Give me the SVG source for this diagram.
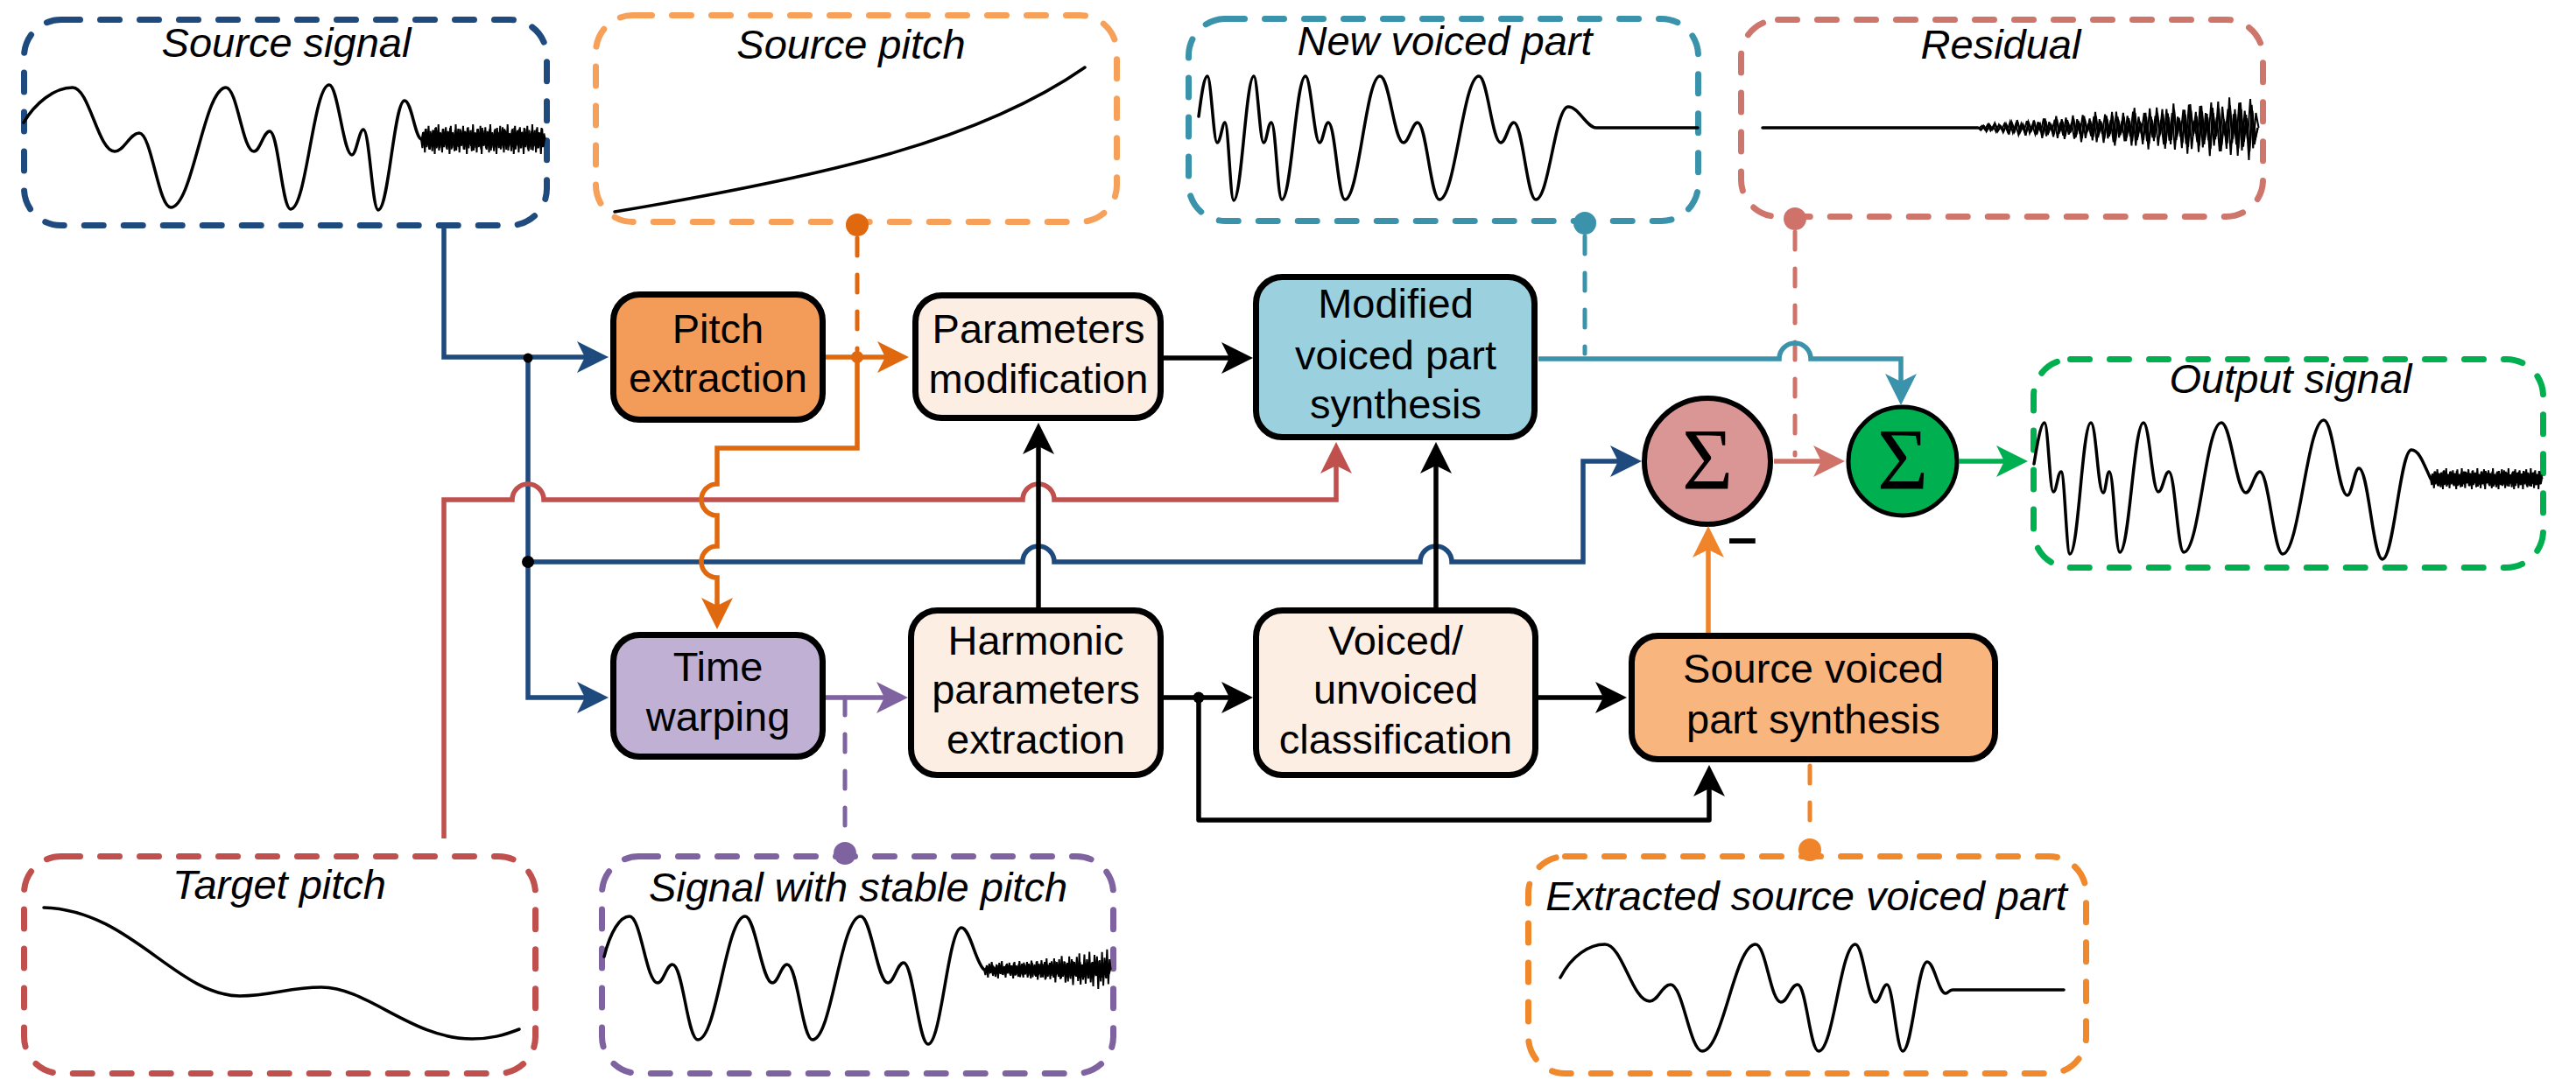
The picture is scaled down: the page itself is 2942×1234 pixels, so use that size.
<svg xmlns="http://www.w3.org/2000/svg" xmlns:xlink="http://www.w3.org/1999/xlink" width="2942" height="1234" viewBox="0 0 2942 1234">
<style>
.nb{stroke:#000;stroke-width:7}
.sh{fill:#000}
.t{font-family:"Liberation Sans",Arial,sans-serif;font-size:47px;text-anchor:middle;fill:#000}
.ti{font-style:italic}
.db{fill:none;stroke-width:7;stroke-dasharray:22 23;stroke-linecap:round}
.w{fill:none;stroke:#000;stroke-width:3.5;stroke-linejoin:round;stroke-linecap:round}
.c{fill:none;stroke-width:5.5}
.dc{fill:none;stroke-width:5;stroke-dasharray:20 22;stroke-linecap:round}
.sg{font-family:"Liberation Serif","Times New Roman",serif;font-size:100px;text-anchor:middle;fill:#000}
</style>
<defs>
<marker id="aBlue" viewBox="-40 -20 44 40" refX="-20" refY="0" markerWidth="44" markerHeight="40" markerUnits="userSpaceOnUse" orient="auto"><path d="M0,0 L-36,-18 L-27,0 L-36,18 Z" fill="#1f4a7e"/></marker>
<marker id="aOrD" viewBox="-40 -20 44 40" refX="-20" refY="0" markerWidth="44" markerHeight="40" markerUnits="userSpaceOnUse" orient="auto"><path d="M0,0 L-36,-18 L-27,0 L-36,18 Z" fill="#e0690f"/></marker>
<marker id="aOrB" viewBox="-40 -20 44 40" refX="-20" refY="0" markerWidth="44" markerHeight="40" markerUnits="userSpaceOnUse" orient="auto"><path d="M0,0 L-36,-18 L-27,0 L-36,18 Z" fill="#f0842a"/></marker>
<marker id="aRed" viewBox="-40 -20 44 40" refX="-20" refY="0" markerWidth="44" markerHeight="40" markerUnits="userSpaceOnUse" orient="auto"><path d="M0,0 L-36,-18 L-27,0 L-36,18 Z" fill="#c0504d"/></marker>
<marker id="aPink" viewBox="-40 -20 44 40" refX="-20" refY="0" markerWidth="44" markerHeight="40" markerUnits="userSpaceOnUse" orient="auto"><path d="M0,0 L-36,-18 L-27,0 L-36,18 Z" fill="#cf736a"/></marker>
<marker id="aTeal" viewBox="-40 -20 44 40" refX="-20" refY="0" markerWidth="44" markerHeight="40" markerUnits="userSpaceOnUse" orient="auto"><path d="M0,0 L-36,-18 L-27,0 L-36,18 Z" fill="#3a93aa"/></marker>
<marker id="aPur" viewBox="-40 -20 44 40" refX="-20" refY="0" markerWidth="44" markerHeight="40" markerUnits="userSpaceOnUse" orient="auto"><path d="M0,0 L-36,-18 L-27,0 L-36,18 Z" fill="#7f63a1"/></marker>
<marker id="aGrn" viewBox="-40 -20 44 40" refX="-20" refY="0" markerWidth="44" markerHeight="40" markerUnits="userSpaceOnUse" orient="auto"><path d="M0,0 L-36,-18 L-27,0 L-36,18 Z" fill="#00b050"/></marker>
<marker id="aBlk" viewBox="-40 -20 44 40" refX="-20" refY="0" markerWidth="44" markerHeight="40" markerUnits="userSpaceOnUse" orient="auto"><path d="M0,0 L-36,-18 L-27,0 L-36,18 Z" fill="#000"/></marker>
<path id="nz" fill="none" stroke="#000" stroke-width="2" vector-effect="non-scaling-stroke" d="M0 0 1 .6 2 -.5 3 .9 4 -.7 5 .4 6 -.9 7 .7 8 -.3 9 .8 10 -.6 11 1 12 -.8 13 .5 14 -1 15 .6 16 -.4 17 .9 18 -.7 19 .3 20 -.8 21 .7 22 -.5 23 1 24 -.9 25 .6 26 -.3 27 .8 28 -1 29 .5 30 -.7 31 .9 32 -.6 33 .4 34 -.9 35 .7 36 -.5 37 1 38 -.8 39 .3 40 -.6 41 .8 42 -1 43 .6 44 -.4 45 .9 46 -.7 47 .5 48 -.9 49 1 50 -.6 51 .4 52 -.8 53 .7 54 -.5 55 .9 56 -1 57 .6 58 -.3 59 .8 60 -.7 61 1 62 -.5 63 .6 64 -.9 65 .4 66 -.8 67 .9 68 -.6 69 .7 70 -1 71 .5 72 -.4 73 .8 74 -.7 75 1 76 -.9 77 .3 78 -.6 79 .9 80 -.8 81 .6 82 -.5 83 1 84 -.7 85 .4 86 -.9 87 .8 88 -.3 89 .7 90 -1 91 .5 92 -.6 93 .9 94 -.8 95 .6 96 -.4 97 1 98 -.7 99 .5 100 0"/>
<path id="nzg" fill="none" stroke="#000" stroke-width="2" vector-effect="non-scaling-stroke" d="M0 0 1 .07 2 -.06 3 .11 4 -.1 5 .06 6 -.14 7 .11 8 -.05 9 .14 10 -.11 11 .2 12 -.17 13 .11 14 -.23 15 .14 16 -.1 17 .23 18 -.18 19 .08 20 -.22 21 .2 22 -.15 23 .31 24 -.28 25 .2 26 -.1 27 .27 28 -.35 29 .18 30 -.26 31 .34 32 -.23 33 .16 34 -.37 35 .29 36 -.21 37 .43 38 -.35 39 .14 40 -.28 41 .38 42 -.48 43 .29 44 -.2 45 .45 46 -.36 47 .26 48 -.48 49 .54 50 -.33 51 .22 52 -.45 53 .4 54 -.29 55 .54 56 -.6 57 .37 58 -.19 59 .5 60 -.45 61 .65 62 -.33 63 .4 64 -.61 65 .27 66 -.56 67 .63 68 -.43 69 .5 70 -.73 71 .37 72 -.3 73 .61 74 -.54 75 .78 76 -.71 77 .24 78 -.48 79 .73 80 -.66 81 .5 82 -.42 83 .85 84 -.6 85 .35 86 -.79 87 .71 88 -.27 89 .63 90 -.91 91 .46 92 -.56 93 .84 94 -.76 95 .57 96 -.39 97 .97 98 -.69 99 .5 100 0"/>
</defs>
<rect width="2942" height="1234" fill="#fff"/>

<g id="source-signal">
<rect class="db" x="27.5" y="22.5" width="597" height="235" rx="42" stroke="#1f4a7e"/>
<text class="t ti" x="327" y="65">Source signal</text>
<path class="w" d="M27,140 C40,118 62,100 83,100 C102,100 112,173 131,173 C142,173 148,152 159,152 C173,152 181,237 195,237 C220,237 233,100 258,100 C271,100 277,173 290,173 C297,173 301,150 308,150 C318,150 322,239 332,239 C350,239 358,97 376,97 C386,97 392,177 402,177 C407,177 410,148 415,148 C422,148 425,240 432,240 C444,240 450,115 462,115 C470,115 474,157 481,159"/>
<use href="#nz" transform="translate(481,159) scale(1.41,17)"/>
<use href="#nz" transform="translate(481.7,159) scale(1.41,-13)"/>
</g>

<g id="source-pitch">
<rect class="db" x="680.5" y="17.5" width="595" height="236" rx="42" stroke="#f6a05a"/>
<text class="t ti" x="972" y="67">Source pitch</text>
<path class="w" d="M702,242 C950,200 1120,160 1239,77"/>
</g>

<g id="new-voiced-part">
<rect class="db" x="1357.5" y="21.5" width="582" height="231" rx="42" stroke="#3a93aa"/>
<text class="t ti" x="1650" y="63">New voiced part</text>
<path class="w" d="M1369,133 C1372,110 1375,87 1379,87 C1383,87 1386,163 1390,163 C1394,163 1396,140 1399,140 C1403,140 1405,229 1409,229 C1418,229 1423,87 1432,87 C1436,87 1439,163 1443,163 C1447,163 1448,140 1452,140 C1457,140 1459,228 1464,228 C1475,228 1480,87 1491,87 C1497,87 1501,163 1507,163 C1511,163 1513,140 1517,140 C1525,140 1528,228 1536,228 C1552,228 1560,87 1576,87 C1587,87 1592,163 1603,163 C1609,163 1613,140 1619,140 C1629,140 1634,228 1644,228 C1662,228 1671,87 1689,87 C1699,87 1704,163 1714,163 C1720,163 1723,140 1729,140 C1739,140 1744,228 1754,228 C1769,228 1776,122 1791,122 C1803,122 1812,146 1823,146 L1939,146"/>
</g>

<g id="residual">
<rect class="db" x="1988.5" y="22.5" width="596" height="225" rx="42" stroke="#cf766c"/>
<text class="t ti" x="2285" y="67">Residual</text>
<path class="w" d="M2013,146 L2259,146"/>
<use href="#nzg" transform="translate(2259,146) scale(3.19,38)"/>
<use href="#nzg" transform="translate(2260.6,146) scale(3.19,-34)"/>
<use href="#nzg" transform="translate(2259.8,146) scale(3.19,28)"/>
</g>

<g id="output-signal">
<rect class="db" x="2322.5" y="410.5" width="582" height="238" rx="42" stroke="#00b050"/>
<text class="t ti" x="2616" y="449">Output signal</text>
<path class="w" d="M2323,530 C2327,505 2331,483 2335,483 C2339,483 2341,562 2345,562 C2349,562 2350,539 2354,539 C2358,539 2360,633 2364,633 C2374,633 2378,483 2388,483 C2394,483 2396,563 2402,563 C2405,563 2406,539 2409,539 C2414,539 2416,631 2421,631 C2432,631 2437,483 2448,483 C2455,483 2458,562 2465,562 C2470,562 2472,539 2477,539 C2484,539 2487,631 2494,631 C2512,631 2519,483 2537,483 C2548,483 2554,563 2565,563 C2571,563 2575,539 2581,539 C2591,539 2597,633 2607,633 C2626,633 2635,480 2654,480 C2665,480 2670,566 2681,566 C2686,566 2689,535 2694,535 C2705,535 2710,639 2721,639 C2734,639 2741,514 2754,514 C2763,514 2768,530 2776,547"/>
<use href="#nz" transform="translate(2776,547) scale(1.27,12)"/>
<use href="#nz" transform="translate(2776.6,547) scale(1.27,-9)"/>
</g>

<g id="target-pitch">
<rect class="db" x="27.5" y="978.5" width="584" height="248" rx="42" stroke="#c0504d"/>
<text class="t ti" x="319" y="1027">Target pitch</text>
<path class="w" d="M50,1037 C150,1040 200,1137 274,1138 C310,1138 330,1128 367,1128 C420,1128 470,1187 539,1187 C560,1187 575,1183 593,1176"/>
</g>

<g id="signal-stable-pitch">
<rect class="db" x="687.5" y="978.5" width="584" height="248" rx="42" stroke="#7f63a1"/>
<text class="t ti" x="980" y="1030">Signal with stable pitch</text>
<path class="w" d="M690,1093 C697,1065 708,1047 719,1047 C732,1047 738,1123 751,1123 C758,1123 761,1102 768,1102 C780,1102 785,1188 797,1188 C819,1188 829,1047 851,1047 C863,1047 870,1123 882,1123 C889,1123 892,1102 899,1102 C911,1102 916,1188 928,1188 C950,1188 960,1047 983,1047 C995,1047 1002,1123 1014,1123 C1021,1123 1025,1100 1032,1100 C1043,1100 1049,1193 1060,1193 C1075,1193 1083,1060 1098,1060 C1108,1060 1114,1100 1124,1108"/>
<use href="#nz" transform="translate(1124,1108) scale(1.44,10)"/>
<use href="#nzg" transform="translate(1124.7,1108) scale(1.44,-24)"/>
</g>

<g id="extracted-source-voiced-part">
<rect class="db" x="1745.5" y="978.5" width="637" height="248" rx="42" stroke="#f0882c"/>
<text class="t ti" x="2063" y="1040">Extracted source voiced part</text>
<path class="w" d="M1782,1117 C1795,1092 1815,1079 1833,1079 C1853,1079 1864,1144 1884,1144 C1894,1144 1898,1125 1908,1125 C1922,1125 1930,1201 1944,1201 C1968,1201 1981,1079 2005,1079 C2017,1079 2022,1145 2034,1145 C2042,1145 2045,1125 2053,1125 C2063,1125 2067,1201 2077,1201 C2094,1201 2102,1079 2119,1079 C2128,1079 2133,1145 2142,1145 C2147,1145 2150,1125 2155,1125 C2162,1125 2166,1201 2173,1201 C2184,1201 2190,1099 2201,1099 C2209,1099 2214,1135 2222,1135 C2225,1135 2226,1131 2230,1131 L2357,1131"/>
</g>

<g id="pitch-extraction">
<rect class="sh" x="702" y="339.5" width="239" height="143" rx="30"/>
<rect class="nb" x="700.5" y="336.5" width="239" height="143" rx="30" fill="#f39c59"/>
<text class="t" x="820" y="392">Pitch</text>
<text class="t" x="820" y="448">extraction</text>
</g>

<g id="time-warping">
<rect class="sh" x="702" y="728.5" width="239" height="139" rx="30"/>
<rect class="nb" x="700.5" y="725.5" width="239" height="139" rx="30" fill="#bfb0d4"/>
<text class="t" x="820" y="778">Time</text>
<text class="t" x="820" y="835">warping</text>
</g>

<g id="parameters-modification">
<rect class="sh" x="1047" y="340.5" width="280" height="140" rx="30"/>
<rect class="nb" x="1045.5" y="337.5" width="280" height="140" rx="30" fill="#fdeee3"/>
<text class="t" x="1186" y="392">Parameters</text>
<text class="t" x="1186" y="449">modification</text>
</g>

<g id="modified-voiced-part-synthesis">
<rect class="sh" x="1436" y="319.5" width="318" height="183" rx="30"/>
<rect class="nb" x="1434.5" y="316.5" width="318" height="183" rx="30" fill="#9bd0de"/>
<text class="t" x="1594" y="363">Modified</text>
<text class="t" x="1594" y="422">voiced part</text>
<text class="t" x="1594" y="478">synthesis</text>
</g>

<g id="harmonic-parameters-extraction">
<rect class="sh" x="1042" y="700.5" width="285" height="188" rx="30"/>
<rect class="nb" x="1040.5" y="697.5" width="285" height="188" rx="30" fill="#fdeee3"/>
<text class="t" x="1183" y="748">Harmonic</text>
<text class="t" x="1183" y="804">parameters</text>
<text class="t" x="1183" y="861">extraction</text>
</g>

<g id="voiced-unvoiced-classification">
<rect class="sh" x="1436" y="700.5" width="319" height="188" rx="30"/>
<rect class="nb" x="1434.5" y="697.5" width="319" height="188" rx="30" fill="#fdeee3"/>
<text class="t" x="1594" y="748">Voiced/</text>
<text class="t" x="1594" y="804">unvoiced</text>
<text class="t" x="1594" y="861">classification</text>
</g>

<g id="source-voiced-part-synthesis">
<rect class="sh" x="1865" y="729.5" width="415" height="141" rx="30"/>
<rect class="nb" x="1863.5" y="726.5" width="415" height="141" rx="30" fill="#f9b57e"/>
<text class="t" x="2071" y="780">Source voiced</text>
<text class="t" x="2071" y="838">part synthesis</text>
</g>

<g id="sum-1">
<circle cx="1950" cy="527" r="72" fill="#d99694" stroke="#000" stroke-width="6"/>
<text class="sg" x="1950" y="558">Σ</text>
<text x="1990" y="634" font-family="Liberation Sans,Arial,sans-serif" font-weight="bold" font-size="60" text-anchor="middle">–</text>
</g>

<g id="sum-2">
<circle cx="2173" cy="527" r="62" fill="#00b050" stroke="#000" stroke-width="5"/>
<text class="sg" x="2173" y="558">Σ</text>
</g>

<g id="connectors">
<path class="c" stroke="#1f4a7e" d="M507,261 V408 H675" marker-end="url(#aBlue)"/>
<path class="c" stroke="#1f4a7e" d="M603,408 V797 H675" marker-end="url(#aBlue)"/>
<path class="c" stroke="#1f4a7e" d="M603,642 H1168 A18,18 0 0 1 1204,642 H1622 A18,18 0 0 1 1658,642 H1808 V527 H1855" marker-end="url(#aBlue)"/>
<circle cx="603" cy="409" r="5.5" fill="#000"/>
<circle cx="603" cy="642" r="7" fill="#000"/>
<path class="c" stroke="#c0504d" d="M507,958 V571 H585 A18,18 0 0 1 621,571 H1168 A18,18 0 0 1 1204,571 H1526 V525" marker-end="url(#aRed)"/>
<path class="dc" stroke="#e0690f" d="M979,272 V400"/>
<circle cx="979" cy="257" r="13" fill="#e0690f"/>
<path class="c" stroke="#e0690f" stroke-width="6" d="M943,408 H1018" marker-end="url(#aOrD)"/>
<path class="c" stroke="#e0690f" stroke-width="6" d="M979,408 V512 H819 V553 A18,18 0 0 0 819,589 V624 A18,18 0 0 0 819,660 V699" marker-end="url(#aOrD)"/>
<circle cx="979" cy="408" r="7" fill="#e0690f"/>
<path class="c" stroke="#7f63a1" d="M943,797 H1017" marker-end="url(#aPur)"/>
<path class="dc" stroke="#7f63a1" d="M965,797 V960"/>
<circle cx="965" cy="975" r="13" fill="#7f63a1"/>
<path class="c" stroke="#000" stroke-width="6" d="M1329,409 H1411" marker-end="url(#aBlk)"/>
<path class="c" stroke="#000" stroke-width="6" d="M1186,694 V503" marker-end="url(#aBlk)"/>
<path class="c" stroke="#000" stroke-width="6" d="M1640,694 V525" marker-end="url(#aBlk)"/>
<path class="c" stroke="#000" stroke-width="6" d="M1329,797 H1411" marker-end="url(#aBlk)"/>
<path class="c" stroke="#000" stroke-width="6" stroke-linejoin="round" d="M1369,797 V937 H1952 V894" marker-end="url(#aBlk)"/>
<circle cx="1369" cy="797" r="6.5" fill="#000"/>
<path class="c" stroke="#000" stroke-width="6" d="M1757,797 H1838" marker-end="url(#aBlk)"/>
<path class="c" stroke="#f0842a" d="M1951,723 V621" marker-end="url(#aOrB)"/>
<path class="dc" stroke="#f0842a" d="M2067,875 V958"/>
<circle cx="2067" cy="971" r="13" fill="#f0842a"/>
<path class="dc" stroke="#3a93aa" d="M1810,270 V404"/>
<circle cx="1810" cy="255" r="13" fill="#3a93aa"/>
<path class="dc" stroke="#cf736a" d="M2050,265 V520"/>
<circle cx="2050" cy="250" r="13" fill="#cf736a"/>
<path class="c" stroke="#3a93aa" d="M1757,410 H2032 A18,18 0 0 1 2068,410 H2171 V443" marker-end="url(#aTeal)"/>
<path class="c" stroke="#cf736a" d="M2026,527 H2087" marker-end="url(#aPink)"/>
<path class="c" stroke="#00b050" d="M2237,527 H2296" marker-end="url(#aGrn)"/>
</g>
</svg>
